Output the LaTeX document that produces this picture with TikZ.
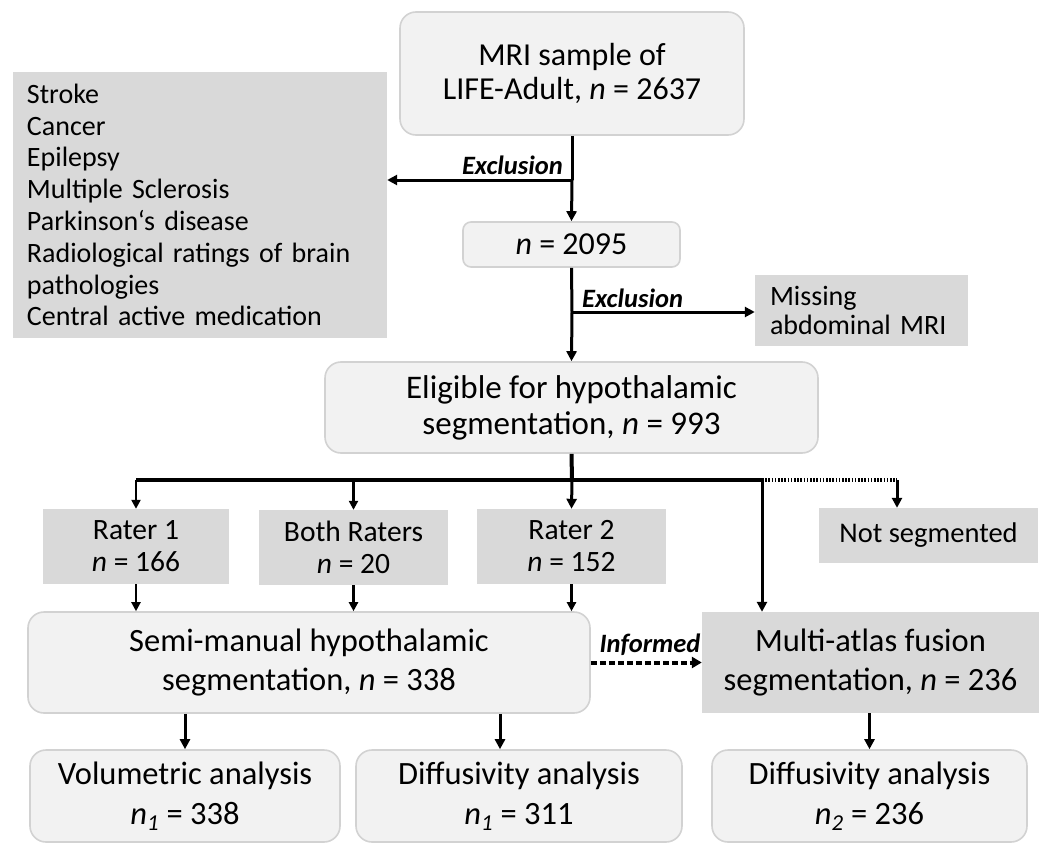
\documentclass[tikz,border=0pt]{standalone}
\usepackage{fontspec}
\setmainfont{Carlito}
\usetikzlibrary{arrows.meta,calc}
\definecolor{lightfill}{HTML}{F2F2F2}
\definecolor{lightborder}{HTML}{D2D2D2}
\definecolor{grayfill}{HTML}{D9D9D9}
\tikzset{
  lightbox/.style={draw=lightborder, line width=1.6pt, fill=lightfill, rounded corners=16pt, inner sep=0pt, align=center},
  graybox/.style={fill=grayfill, inner sep=0pt, align=center},
  arr/.style={line width=3pt, -{Triangle[length=10pt,width=10pt]}},
  thinarr/.style={line width=2.2pt, -{Triangle[length=9pt,width=9pt]}},
  busline/.style={line width=4pt},
  dotline/.style={line width=4pt, dash pattern=on 1.6pt off 1.6pt},
  dasharr/.style={line width=4pt, dash pattern=on 6pt off 3pt, -{Triangle[length=10pt,width=11pt]}},
  lab/.style={font=\fontsize{26.5}{26.5}\selectfont\bfseries\itshape, inner sep=0pt},
  raterfont/.style={font=\fontsize{29.5}{32}\selectfont},
  bigfont/.style={font=\fontsize{32.5}{39}\selectfont},
}
\begin{document}
\begin{tikzpicture}[x=1pt,y=-1pt]
\useasboundingbox (0,0) rectangle (1039,843);

% boxes
\node[lightbox, font=\fontsize{32}{34}\selectfont, minimum width=344pt, minimum height=123pt] (top) at (572,73.5) {MRI sample of\\LIFE-Adult, \textit{n} = 2637};
\node[graybox, align=left, text width=346pt, inner xsep=14pt, minimum height=266pt, font=\fontsize{28}{31.8}\selectfont] (left) at (200,205)
 {Stroke\\Cancer\\Epilepsy\\Multiple Sclerosis\\Parkinson‘s disease\\Radiological ratings of brain\\pathologies\\Central active medication};
\node[lightbox, font=\fontsize{32}{34}\selectfont, rounded corners=8pt, minimum width=217pt, minimum height=45pt] (n2095) at (571.5,244.5) {\textit{n} = 2095};
\node[graybox, align=left, text width=183pt, inner xsep=15pt, minimum height=71pt, font=\fontsize{28}{28.5}\selectfont] (missing) at (861.5,310.5) {Missing\\abdominal MRI};
\node[lightbox, font=\fontsize{33}{36}\selectfont, minimum width=493pt, minimum height=91pt] (elig) at (571.5,407.5) {Eligible for hypothalamic\\segmentation, \textit{n} = 993};

\node[graybox, raterfont, minimum width=186pt, minimum height=75pt] (r1) at (136,546.5) {Rater 1\\\textit{n} = 166};
\node[graybox, raterfont, minimum width=189pt, minimum height=75pt] (both) at (353.5,547.5) {Both Raters\\\textit{n} = 20};
\node[graybox, raterfont, minimum width=189pt, minimum height=75pt] (r2) at (571.5,546.5) {Rater 2\\\textit{n} = 152};
\node[graybox, font=\fontsize{28.5}{32}\selectfont, minimum width=219pt, minimum height=55pt] (notseg) at (928.5,535.5) {Not segmented};

\node[lightbox, bigfont, minimum width=562pt, minimum height=101pt] (semi) at (309,662.5) {Semi-manual hypothalamic\\segmentation, \textit{n} = 338};
\node[graybox, bigfont, minimum width=337pt, minimum height=101pt] (multi) at (870.5,662.5) {Multi-atlas fusion\\segmentation, \textit{n} = 236};

\node[lightbox, font=\fontsize{32.5}{40}\selectfont, minimum width=310pt, minimum height=92pt] (vol) at (185,796) {Volumetric analysis\\\textit{n\textsubscript{1}} = 338};
\node[lightbox, font=\fontsize{32.5}{40}\selectfont, minimum width=326pt, minimum height=92pt] (dif1) at (519,796) {Diffusivity analysis\\\textit{n\textsubscript{1}} = 311};
\node[lightbox, font=\fontsize{32.5}{40}\selectfont, minimum width=315pt, minimum height=92pt] (dif2) at (869.5,796) {Diffusivity analysis\\\textit{n\textsubscript{2}} = 236};

% junctions
\coordinate (ex1) at (572,180);
\coordinate (ex2) at (572,312);
\coordinate (bus) at (572,480);
\coordinate (mid) at (762,480);
\coordinate (ns) at (897,480);

% connectors
\draw[line width=3pt] (top.south) -- (ex1);
\draw[arr] (ex1) -- (n2095.north);
\draw[arr] (ex1) -- (left.east |- ex1);
\node[lab, anchor=east] (lab1) at (563,165) {Exclusion};

\draw[line width=3pt] (n2095.south) -- (ex2);
\draw[arr] (ex2) -- (elig.north);
\draw[arr] (ex2) -- (missing.west |- ex2);
\node[lab, anchor=west] (lab2) at (582,298) {Exclusion};

\draw[busline] (elig.south) -- (bus);
\draw[busline] (r1.north |- bus) -- (mid);
\draw[thinarr, line width=2.6pt] (r1.north |- bus) -- (r1.north);
\draw[thinarr, line width=2.6pt] (both.north |- bus) -- (both.north);
\draw[arr] (bus) -- (r2.north);
\draw[arr] (mid) -- (mid |- multi.north);
\draw[dotline] (mid) -- (ns);
\draw[arr] (ns) -- (ns |- notseg.north);

\draw[thinarr] (r1.south) -- (r1.south |- semi.north);
\draw[thinarr] (both.south) -- (both.south |- semi.north);
\draw[thinarr] (r2.south) -- (r2.south |- semi.north);

\draw[dasharr] (semi.east) -- (multi.west);
\node[lab, anchor=south] (lab3) at (650,656) {Informed};

\draw[arr] (semi.south -| vol.north) -- (vol.north);
\draw[arr] ($(semi.south -| dif1.north)+(-19,0)$) -- ($(dif1.north)+(-19,0)$);
\draw[arr] (multi.south -| dif2.north) -- (dif2.north);
\end{tikzpicture}
\end{document}
